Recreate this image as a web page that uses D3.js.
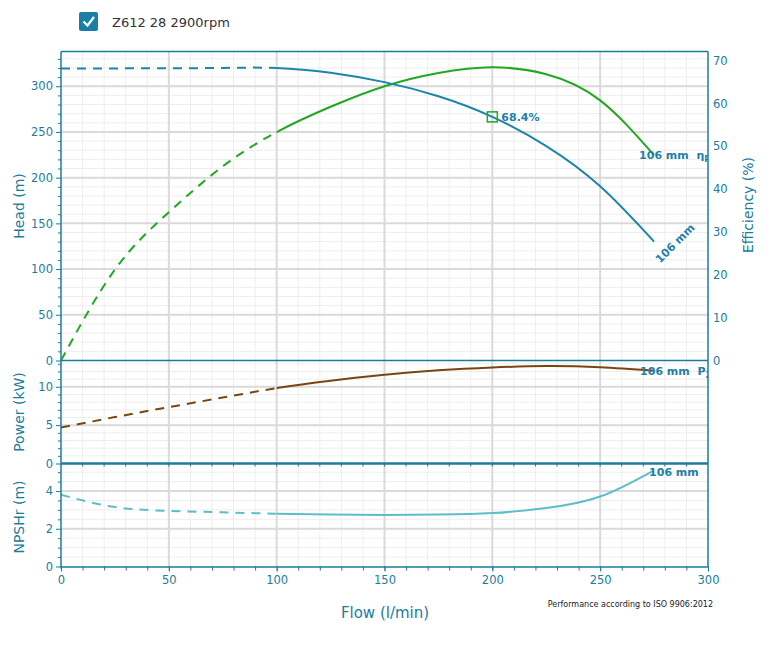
<!DOCTYPE html>
<html><head><meta charset="utf-8">
<script src="https://cdn.jsdelivr.net/npm/d3@7"></script>
<style>
body{margin:0;background:#fff;}
svg{display:block;}
text{font-family:"DejaVu Sans",Verdana,sans-serif;}
</style></head>
<body>
<svg id="c" width="784" height="645"></svg>
<script>
// ---- data ----
const legendLabel = "Z612 28 2900rpm";
const flowTicks = [0, 50, 100, 150, 200, 250, 300];
const headTicks = [0, 50, 100, 150, 200, 250, 300];
const effTicks = [0, 10, 20, 30, 40, 50, 60, 70];
const powerTicks = [0, 5, 10];
const npshTicks = [0, 2, 4];

// flow sample points (l/min), shared by all curves
const flow = [0, 25, 50, 75, 100, 125, 150, 175, 200, 225, 250, 275];
const headVals = [319.3, 319.5, 319.7, 320, 320, 314.8, 304.5, 289, 266.5, 234.5, 190.5, 130];
const effVals = [0, 21.2, 34.6, 45.3, 53.3, 59.2, 64.0, 67.1, 68.4, 66.8, 60.7, 47.9];
const powVals = [4.7, 6.05, 7.35, 8.6, 9.83, 10.8, 11.57, 12.15, 12.52, 12.7, 12.55, 12.1];
const npshVals = [3.8, 3.15, 2.95, 2.87, 2.8, 2.75, 2.73, 2.75, 2.83, 3.1, 3.71, 5.1];

const bepFlow = 200, bepHead = 266.5, bepEff = "68.4%";
const dashLimit = 100; // curves dashed below this flow
const trimLabel = "106 mm";

// ---- styles ----
const teal = "#1b7c9c", labelCol = "#1f80a6";
const cHead = "#1a86aa", cEff = "#21a821", cPow = "#7a4510", cNpsh = "#5cbfc6";
const gridMajor = "#dadada", gridMinor = "#eeeeee";
const NB = "\u00a0";

const svg = d3.select("#c");
const X0 = 61, X1 = 708;
const yTop = 51.5, yP1 = 360.5, yP2 = 463.5, yBot = 566.5;

const x = d3.scaleLinear().domain([0, 300]).range([X0, X1]);
const yH = d3.scaleLinear().domain([0, 338]).range([yP1, yTop]);
const yE = d3.scaleLinear().domain([0, 72.1]).range([yP1, yTop]);
const yPw = d3.scaleLinear().domain([0, 13.43]).range([yP2, yP1]);
const yN = d3.scaleLinear().domain([0, 5.46]).range([yBot, yP2]);

const defs = svg.append("defs");
defs.append("clipPath").attr("id", "plot")
  .append("rect").attr("x", X0).attr("y", yTop).attr("width", X1 - X0).attr("height", yBot - yTop);
defs.append("clipPath").attr("id", "dashpart").append("rect")
  .attr("x", X0 - 5).attr("y", 0).attr("width", x(dashLimit) - X0 + 5).attr("height", 645);
defs.append("clipPath").attr("id", "solidpart").append("rect")
  .attr("x", x(dashLimit)).attr("y", 0).attr("width", X1 - x(dashLimit)).attr("height", 645);

// ---- grid ----
const g = svg.append("g");
function hminor(scale, minorStep) {
  const dom = scale.domain();
  g.selectAll(null).data(d3.range(0, dom[1] + 1e-9, minorStep)).enter().append("line")
    .attr("x1", X0).attr("x2", X1).attr("y1", d => scale(d)).attr("y2", d => scale(d))
    .attr("stroke", gridMinor).attr("stroke-width", 1);
}
function hmajor(scale, vals) {
  g.selectAll(null).data(vals.filter(v => v > 0)).enter().append("line")
    .attr("x1", X0).attr("x2", X1).attr("y1", d => scale(d)).attr("y2", d => scale(d))
    .attr("stroke", gridMajor).attr("stroke-width", 2);
}
hminor(yH, 10); hminor(yPw, 1); hminor(yN, 0.5);
g.selectAll(null).data(d3.range(10, 300, 10)).enter().append("line")
  .attr("x1", d => x(d)).attr("x2", d => x(d)).attr("y1", yTop).attr("y2", yBot)
  .attr("stroke", gridMinor).attr("stroke-width", 1);
hmajor(yH, headTicks); hmajor(yPw, powerTicks); hmajor(yN, npshTicks);
g.selectAll(null).data(flowTicks.filter(v => v > 0 && v < 300)).enter().append("line")
  .attr("x1", d => x(d)).attr("x2", d => x(d)).attr("y1", yTop).attr("y2", yBot)
  .attr("stroke", gridMajor).attr("stroke-width", 2);

// ---- curves ----
const curves = svg.append("g").attr("clip-path", "url(#plot)");
function drawCurve(vals, yScale, color) {
  const pts = flow.map((f, i) => [f, vals[i]]);
  const line = d3.line().x(d => x(d[0])).y(d => yScale(d[1])).curve(d3.curveNatural);
  curves.append("g").attr("clip-path", "url(#dashpart)").append("path").datum(pts).attr("d", line)
    .attr("fill", "none").attr("stroke", color).attr("stroke-width", 2).attr("stroke-dasharray", "9,7");
  curves.append("g").attr("clip-path", "url(#solidpart)").append("path").datum(pts).attr("d", line)
    .attr("fill", "none").attr("stroke", color).attr("stroke-width", 2);
}
drawCurve(effVals, yE, cEff);
drawCurve(headVals, yH, cHead);
drawCurve(powVals, yPw, cPow);
drawCurve(npshVals, yN, cNpsh);

// ---- frame / axes ----
const fr = svg.append("g").attr("stroke", teal).attr("fill", "none");
fr.append("line").attr("x1", X0).attr("x2", X1).attr("y1", yTop).attr("y2", yTop).attr("stroke-width", 1.5);
fr.append("line").attr("x1", X0).attr("x2", X1).attr("y1", yP1).attr("y2", yP1).attr("stroke-width", 1.5);
fr.append("line").attr("x1", X0).attr("x2", X1).attr("y1", yP2).attr("y2", yP2).attr("stroke-width", 2.5);
fr.append("line").attr("x1", X1).attr("x2", X1).attr("y1", yTop).attr("y2", yBot).attr("stroke-width", 1.5);

function leftAxis(scale, major, minorStep) {
  const dom = scale.domain();
  const minorVals = d3.range(0, dom[1], minorStep).filter(v => !major.some(m => Math.abs(m - v) < 1e-9));
  svg.append("g").attr("transform", `translate(${X0},0)`)
    .call(d3.axisLeft(scale).tickValues(minorVals).tickSize(3).tickFormat("").tickSizeOuter(0))
    .call(s => s.select(".domain").remove())
    .call(s => s.selectAll("line").attr("stroke", teal));
  svg.append("g").attr("transform", `translate(${X0},0)`)
    .call(d3.axisLeft(scale).tickValues(major).tickSize(5).tickPadding(3).tickSizeOuter(0).tickFormat(d3.format("d")))
    .call(s => s.select(".domain").remove())
    .call(s => s.selectAll("line").attr("stroke", teal))
    .call(s => s.selectAll("text").attr("fill", teal).attr("font-size", 11.5).attr("font-family", "DejaVu Sans"));
}
leftAxis(yH, headTicks, 10);
leftAxis(yPw, powerTicks, 1);
leftAxis(yN, npshTicks, 0.5);
svg.append("line").attr("x1", X0).attr("x2", X0).attr("y1", yTop).attr("y2", yBot + 2)
  .attr("stroke", teal).attr("stroke-width", 1.5);

// right axis (efficiency)
svg.append("g").attr("transform", `translate(${X1},0)`)
  .call(d3.axisRight(yE).tickValues(effTicks).tickSize(0).tickPadding(5).tickSizeOuter(0))
  .call(s => s.select(".domain").remove())
  .call(s => s.selectAll("text").attr("fill", teal).attr("font-size", 11.5).attr("font-family", "DejaVu Sans"));

// bottom axis
svg.append("g").attr("transform", `translate(0,${yBot})`)
  .call(d3.axisBottom(x).tickValues(d3.range(0, 301, 10)).tickSize(4).tickFormat("").tickSizeOuter(0))
  .call(s => s.select(".domain").remove())
  .call(s => s.selectAll("line").attr("stroke", teal));
svg.append("g").attr("transform", `translate(0,${yBot})`)
  .call(d3.axisBottom(x).tickValues(flowTicks).tickSize(5).tickPadding(4).tickSizeOuter(0))
  .call(s => s.select(".domain").attr("stroke", teal).attr("stroke-width", 1.5))
  .call(s => s.selectAll("line").attr("stroke", teal))
  .call(s => s.selectAll("text").attr("fill", teal).attr("font-size", 11.5).attr("font-family", "DejaVu Sans"));
svg.append("g").selectAll(null).data(d3.range(10, 300, 10)).enter().append("line")
  .attr("x1", d => x(d)).attr("x2", d => x(d)).attr("y1", yP2).attr("y2", yP2 + 3)
  .attr("stroke", teal).attr("stroke-width", 1);

// axis titles
function title(txt, cx, cy, rot, size) {
  svg.append("text").attr("transform", `translate(${cx},${cy}) rotate(${rot})`)
    .attr("text-anchor", "middle").attr("dominant-baseline", "central")
    .attr("fill", teal).attr("font-size", size).text(txt);
}
title("Head (m)", 19, 206, -90, 14);
title("Power (kW)", 19, 412, -90, 14);
title("NPSHr (m)", 19, 517, -90, 14);
title("Efficiency (%)", 748, 205, -90, 14);
title("Flow (l/min)", 385, 613, 0, 15);

svg.append("text").attr("x", 713).attr("y", 607).attr("text-anchor", "end")
  .attr("font-size", 8).attr("fill", "#222").text("Performance according to ISO 9906:2012");

// ---- curve labels ----
function last(a) { return a[a.length - 1]; }
const fEnd = x(last(flow));
const lab = svg.append("g").attr("clip-path", "url(#plot)")
  .attr("font-weight", "bold").attr("font-size", 11).attr("fill", labelCol);
const tEff = lab.append("text").attr("x", fEnd - 15).attr("y", yE(last(effVals)) + 4);
tEff.append("tspan").text(trimLabel + NB + NB + "η");
tEff.append("tspan").attr("font-size", 8).attr("dy", 3).text("P");
const tPow = lab.append("text").attr("x", fEnd - 14).attr("y", yPw(last(powVals)) + 4);
tPow.append("tspan").text(trimLabel + NB + NB + "P");
tPow.append("tspan").attr("font-size", 8).attr("dy", 3).text("2");
lab.append("text").attr("x", fEnd - 5).attr("y", yN(last(npshVals)) + 6).text(trimLabel);
const hy = yH(last(headVals));
lab.append("text").attr("transform", `translate(${fEnd + 6},${hy + 22}) rotate(-45)`).text(trimLabel);

// BEP marker
svg.append("rect").attr("x", x(bepFlow) - 5).attr("y", yH(bepHead) - 5).attr("width", 10).attr("height", 10)
  .attr("fill", "none").attr("stroke", cEff).attr("stroke-width", 1.5);
svg.append("text").attr("x", x(bepFlow) + 9).attr("y", yH(bepHead) + 4)
  .attr("font-weight", "bold").attr("font-size", 11).attr("fill", labelCol).text(bepEff);

// ---- legend ----
const lg = svg.append("g");
lg.append("rect").attr("x", 79).attr("y", 12).attr("width", 19).attr("height", 19).attr("rx", 2)
  .attr("fill", "#1a7fa6");
lg.append("path").attr("d", "M83.5,21.5 L87.5,25.5 L94,17").attr("fill", "none")
  .attr("stroke", "#fff").attr("stroke-width", 2.2);
lg.append("text").attr("x", 112).attr("y", 26.5).attr("font-family", "Open Sans")
  .attr("font-size", 13).attr("fill", "#333").text(legendLabel);
</script>
</body></html>
